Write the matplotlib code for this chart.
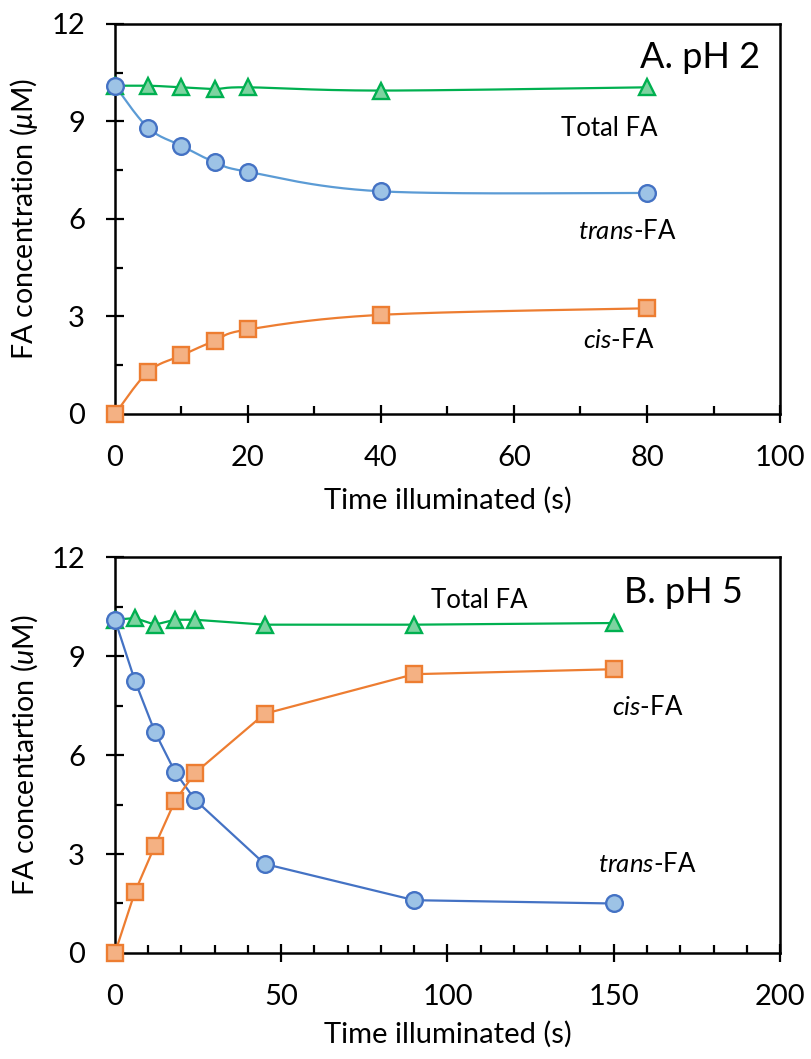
import numpy as np
import matplotlib
matplotlib.use("Agg")
import matplotlib.pyplot as plt
from matplotlib.ticker import MultipleLocator

plt.rcParams['font.family'] = ['Lato', 'DejaVu Sans']
plt.rcParams['mathtext.fontset'] = 'custom'
plt.rcParams['mathtext.rm'] = 'Lato'
plt.rcParams['mathtext.it'] = 'Lato:italic'

# panel A, pH 2
time_a = [0, 5, 10, 15, 20, 40, 80]
trans_a = [10.1, 8.8, 8.25, 7.75, 7.45, 6.85, 6.8]
cis_a = [0.0, 1.3, 1.8, 2.25, 2.6, 3.05, 3.25]
total_a = [10.1, 10.1, 10.05, 10.0, 10.05, 9.95, 10.05]

# panel B, pH 5
time_b = [0, 6, 12, 18, 24, 45, 90, 150]
trans_b = [10.1, 8.25, 6.7, 5.5, 4.65, 2.7, 1.6, 1.5]
cis_b = [0.0, 1.85, 3.25, 4.6, 5.45, 7.25, 8.45, 8.6]
total_b = [10.1, 10.15, 9.95, 10.1, 10.1, 9.95, 9.95, 10.0]

green = '#00B050'
green_fill = '#7DD3A0'
orange = '#ED7D31'
orange_fill = '#F4B183'
blue_a = '#5B9BD5'
blue_b = '#4472C4'
blue_fill = '#9DC3E6'


def smooth(x, y, xmax, ymax, n=30):
    # excel-style smoothed line (bezier through the points, screen space)
    px = np.asarray(x, float) / xmax * 665
    py = np.asarray(y, float) / ymax * 390
    P = np.column_stack([px, py])
    P = np.vstack([P[0], P, P[-1]])
    out = []
    t = np.linspace(0, 1, n)[:, None]
    for i in range(1, len(P) - 2):
        p0, p1, p2, p3 = P[i - 1], P[i], P[i + 1], P[i + 2]
        b1 = p1 + (p2 - p0) / 6
        b2 = p2 - (p3 - p1) / 6
        seg = ((1 - t) ** 3) * p1 + 3 * ((1 - t) ** 2) * t * b1 + 3 * (1 - t) * t ** 2 * b2 + t ** 3 * p2
        out.append(seg)
    out = np.vstack(out)
    return out[:, 0] / 665 * xmax, out[:, 1] / 390 * ymax


def style_axes(ax, xmax, xmajor, xminor):
    ax.set_xlim(0, xmax)
    ax.set_ylim(0, 12)
    ax.xaxis.set_major_locator(MultipleLocator(xmajor))
    ax.xaxis.set_minor_locator(MultipleLocator(xminor))
    ax.yaxis.set_major_locator(MultipleLocator(3))
    ax.yaxis.set_minor_locator(MultipleLocator(1.5))
    for s in ax.spines.values():
        s.set_linewidth(1.8)
    ax.tick_params(which='major', direction='inout', length=13, width=1.6,
                   labelsize=21, pad=15)
    ax.tick_params(which='minor', direction='in', length=6, width=1.6)
    ax.tick_params(axis='x', which='major', pad=16)


fig = plt.figure(figsize=(8.12, 10.59), dpi=100)
ax1 = fig.add_axes([0.1416, 0.6091, 0.819, 0.3683])
ax2 = fig.add_axes([0.1416, 0.1001, 0.819, 0.3739])

mk = dict(markersize=12, markeredgewidth=1.7, clip_on=False, zorder=5)

# panel A
for x, y, lc, ec, fc, m in [(time_a, total_a, green, green, green_fill, '^'),
                            (time_a, trans_a, blue_a, blue_b, blue_fill, 'o'),
                            (time_a, cis_a, orange, orange, orange_fill, 's')]:
    sx, sy = smooth(x, y, 100, 12)
    ax1.plot(sx, sy, color=lc, lw=1.6, zorder=3)
    ax1.plot(x, y, ls='none', marker=m, markerfacecolor=fc,
             markeredgecolor=ec, **mk)
style_axes(ax1, 100, 20, 10)
ax1.set_xlabel('Time illuminated (s)', fontsize=21, labelpad=11)
ax1.set_ylabel(r'FA concentration ($\mathit{\mu}$M)', fontsize=20.5, labelpad=8)
ax1.text(88, 10.65, 'A. pH 2', fontsize=26, ha='center', va='baseline')
ax1.text(74.3, 8.55, 'Total FA', fontsize=18.5, ha='center', va='baseline')
ax1.text(77.1, 5.38, r'$\mathit{trans}$-FA', fontsize=18.5, ha='center', va='baseline')
ax1.text(75.7, 2.03, r'$\mathit{cis}$-FA', fontsize=18.5, ha='center', va='baseline')

# panel B
for x, y, lc, fc, m in [(time_b, total_b, green, green_fill, '^'),
                        (time_b, trans_b, blue_b, blue_fill, 'o'),
                        (time_b, cis_b, orange, orange_fill, 's')]:
    ax2.plot(x, y, color=lc, lw=1.6, zorder=3)
    ax2.plot(x, y, ls='none', marker=m, markerfacecolor=fc,
             markeredgecolor=lc, **mk)
style_axes(ax2, 200, 50, 10)
ax2.set_xlabel('Time illuminated (s)', fontsize=21, labelpad=8)
ax2.set_ylabel(r'FA concentartion ($\mathit{u}$M)', fontsize=20.5, labelpad=8)
ax2.text(171, 10.6, 'B. pH 5', fontsize=26, ha='center', va='baseline')
ax2.text(109.5, 10.45, 'Total FA', fontsize=18.5, ha='center', va='baseline')
ax2.text(160.3, 7.2, r'$\mathit{cis}$-FA', fontsize=18.5, ha='center', va='baseline')
ax2.text(160.2, 2.45, r'$\mathit{trans}$-FA', fontsize=18.5, ha='center', va='baseline')

fig.savefig('out.png', dpi=100)
